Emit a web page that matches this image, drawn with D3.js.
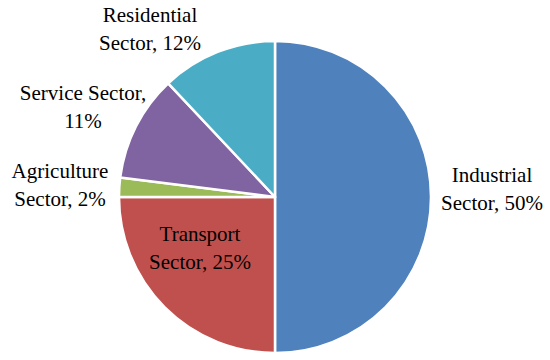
<!DOCTYPE html>
<html>
<head>
<meta charset="utf-8">
<script src="https://cdn.jsdelivr.net/npm/d3@7"></script>
<style>
  body { margin: 0; background: #fff; }
  text { font-family: "Liberation Serif", "DejaVu Serif", serif; fill: #000; }
</style>
</head>
<body>
<div id="chart"></div>
<script>
// sectors, clockwise from 12 o'clock
var sectors = ['Industrial Sector', 'Transport Sector', 'Agriculture Sector', 'Service Sector', 'Residential Sector'];
var shares = [50, 25, 2, 11, 12];
var labelLines = [
    ['Industrial', 'Sector, 50%'],
    ['Transport', 'Sector, 25%'],
    ['Agriculture', 'Sector, 2%'],
    ['Service Sector,', '11%'],
    ['Residential', 'Sector, 12%']
];

var svgWidth = 550;
var svgHeight = 360;
var cx = 275;
var cy = 197;
var radius = 156;

var color = d3.scaleOrdinal()
    .domain(sectors)
    .range(['#4f81bd', '#c0504d', '#9bbb59', '#8064a2', '#4bacc6']);

// where each label's first baseline sits, relative to pie centre
var labelOffset = [
    [217, -15],
    [-75, 44],
    [-215, -19],
    [-192, -97],
    [-125, -175]
];

var svg = d3.select('#chart')
    .append('svg')
    .attr('width', svgWidth)
    .attr('height', svgHeight);

var g = svg.append('g')
    .attr('transform', `translate(${cx}, ${cy})`);

var pie = d3.pie()
    .sort(null)
    .value(d => d);

var arc = d3.arc()
    .innerRadius(0)
    .outerRadius(radius);

var arcs = pie(shares);

g.selectAll('path')
    .data(arcs)
    .enter()
    .append('path')
    .attr('d', arc)
    .attr('fill', (d, i) => color(sectors[i]))
    .attr('stroke', '#fff')
    .attr('stroke-width', 2.5)
    .attr('stroke-linejoin', 'round');

var labels = g.selectAll('.lbl')
    .data(arcs)
    .enter()
    .append('text')
    .attr('class', 'lbl')
    .attr('text-anchor', 'middle')
    .attr('font-size', '21px')
    .attr('x', (d, i) => labelOffset[i][0])
    .attr('y', (d, i) => labelOffset[i][1]);

labels.each(function(d, i) {
    var t = d3.select(this);
    labelLines[i].forEach(function(line, j) {
        t.append('tspan')
            .attr('x', labelOffset[i][0])
            .attr('dy', j === 0 ? 0 : 28)
            .text(line);
    });
});
</script>
</body>
</html>
